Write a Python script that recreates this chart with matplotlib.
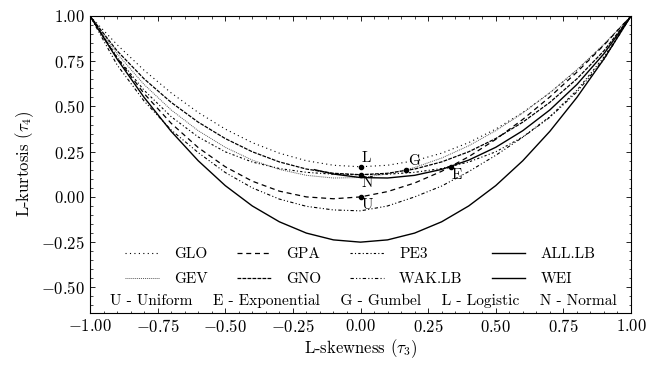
import matplotlib
matplotlib.use('Agg')
import matplotlib.pyplot as plt
from matplotlib.ticker import AutoMinorLocator

# L-skewness grid and L-kurtosis values
tau3 = [-1.0, -0.9, -0.8, -0.7, -0.6, -0.5, -0.4, -0.3, -0.2, -0.1, 0.0,
        0.1, 0.2, 0.3, 0.4, 0.5, 0.6, 0.7, 0.8, 0.9, 1.0]

glo = [1.0, 0.8417, 0.7, 0.575, 0.4667, 0.375, 0.3, 0.2417, 0.2, 0.175, 0.1667,
       0.175, 0.2, 0.2417, 0.3, 0.375, 0.4667, 0.575, 0.7, 0.8417, 1.0]
gev = [1.0, 0.7916, 0.6214, 0.4808, 0.3661, 0.2742, 0.2034, 0.1521, 0.1193, 0.1045, 0.1070,
       0.1265, 0.1626, 0.2148, 0.2827, 0.3658, 0.4638, 0.5762, 0.7029, 0.8443, 1.0]
gpa = [1.0, 0.7683, 0.5714, 0.4070, 0.2727, 0.1667, 0.0870, 0.0319, 0.0, -0.0102, 0.0,
       0.0294, 0.0769, 0.1415, 0.2222, 0.3182, 0.4286, 0.5526, 0.6897, 0.8390, 1.0]
gno = [1.0, 0.8077, 0.6526, 0.5226, 0.4133, 0.3226, 0.2495, 0.1935, 0.1540, 0.1306, 0.1228,
       0.1306, 0.1540, 0.1935, 0.2495, 0.3226, 0.4133, 0.5226, 0.6526, 0.8077, 1.0]
pe3 = [1.0, 0.7729, 0.5894, 0.4435, 0.3314, 0.2493, 0.1929, 0.1569, 0.1359, 0.1255, 0.1224,
       0.1255, 0.1359, 0.1569, 0.1929, 0.2493, 0.3314, 0.4435, 0.5894, 0.7729, 1.0]
wak_lb = [1.0, 0.73, 0.53, 0.37, 0.245, 0.135, 0.05, -0.012, -0.052, -0.072, -0.077,
          -0.05, 0.0, 0.06, 0.14, 0.23, 0.33, 0.44, 0.58, 0.76, 1.0]
all_lb = [1.0, 0.7625, 0.55, 0.3625, 0.2, 0.0625, -0.05, -0.1375, -0.2, -0.2375, -0.25,
          -0.2375, -0.2, -0.1375, -0.05, 0.0625, 0.2, 0.3625, 0.55, 0.7625, 1.0]

# Weibull only covers tau3 > -0.17
wei_t3 = [-0.17, -0.1, 0.0, 0.1, 0.2, 0.3, 0.4, 0.5, 0.6, 0.7, 0.8, 0.9, 1.0]
wei = [0.1504, 0.1265, 0.1070, 0.1045, 0.1193, 0.1521, 0.2034, 0.2742, 0.3661,
       0.4808, 0.6214, 0.7916, 1.0]

# special distributions
pt_names = ['U', 'E', 'G', 'L', 'N']
pt_t3 = [0.0, 0.3333, 0.1699, 0.0, 0.0]
pt_t4 = [0.0, 0.1667, 0.1504, 0.1667, 0.1226]

plt.rcParams['font.family'] = 'serif'
plt.rcParams['font.serif'] = ['cmr10']
plt.rcParams['mathtext.fontset'] = 'cm'
plt.rcParams['axes.formatter.use_mathtext'] = True
plt.rcParams['axes.unicode_minus'] = True

fig = plt.figure(figsize=(6.53, 3.65), dpi=100)
ax = fig.add_axes([90 / 653, 1 - 312.7 / 365, 541 / 653, 296.7 / 365])

curves = [
    ('GLO', tau3, glo, (0, (1, 3)), 0.8, 'black'),
    ('GEV', tau3, gev, (0, (1, 1)), 0.7, '0.35'),
    ('GPA', tau3, gpa, (0, (4, 3)), 0.9, 'black'),
    ('GNO', tau3, gno, (0, (3, 1)), 0.9, 'black'),
    ('PE3', tau3, pe3, (0, (2, 2, 1, 2)), 0.8, 'black'),
    ('WAK.LB', tau3, wak_lb, (0, (3, 2, 1, 2, 1, 2)), 0.8, 'black'),
    ('ALL.LB', tau3, all_lb, '-', 1.0, 'black'),
    ('WEI', wei_t3, wei, '-', 1.0, 'black'),
]
for name, xs, vals, ls, lw, col in curves:
    ax.plot(xs, vals, color=col, linestyle=ls, linewidth=lw, label=name)

ax.plot(pt_t3, pt_t4, 'o', color='black', markersize=3)
for name, x, y in zip(pt_names, pt_t3, pt_t4):
    if name in ('L', 'G'):
        ax.annotate(name, (x, y), xytext=(1, 1), textcoords='offset points',
                    ha='left', va='bottom', fontsize=11)
    else:
        ax.annotate(name, (x, y), xytext=(1, -1), textcoords='offset points',
                    ha='left', va='top', fontsize=11)

ax.set_xlim(-1, 1)
ax.set_ylim(-0.64, 1.0)
ax.set_xticks([-1, -0.75, -0.5, -0.25, 0, 0.25, 0.5, 0.75, 1])
ax.set_yticks([-0.5, -0.25, 0, 0.25, 0.5, 0.75, 1])
ax.xaxis.set_minor_locator(AutoMinorLocator())
ax.yaxis.set_minor_locator(AutoMinorLocator())
ax.tick_params(which='both', direction='in', top=True, right=True, labelsize=12)
ax.tick_params(which='major', length=3.5, width=0.6)
ax.tick_params(which='minor', length=1.8, width=0.5)
for sp in ax.spines.values():
    sp.set_linewidth(0.8)

ax.set_xlabel(r'L-skewness ($\tau_3$)', fontsize=12, labelpad=2)
ax.set_ylabel(r'L-kurtosis ($\tau_4$)', fontsize=12, labelpad=4)

ax.legend(loc='center', bbox_to_anchor=(0.5, 0.155), ncol=4, frameon=False,
          fontsize=11, handlelength=2.2, handletextpad=1.0, columnspacing=1.9,
          labelspacing=0.75)
ax.text(0.505, 0.04, 'U - Uniform    E - Exponential    G - Gumbel    L - Logistic    N - Normal',
        transform=ax.transAxes, ha='center', va='center', fontsize=11.1)

fig.savefig('out.png', dpi=100)
